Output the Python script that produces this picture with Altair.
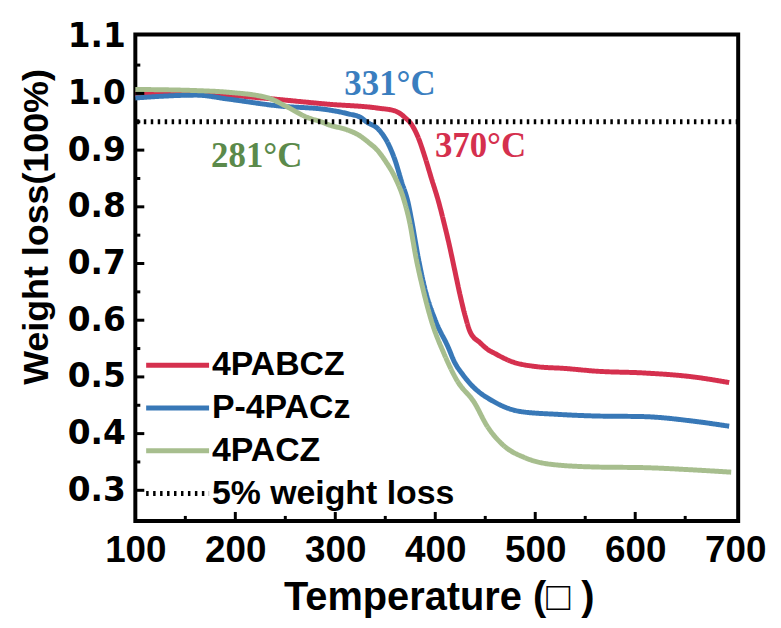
import altair as alt
import pandas as pd

# ---------------- data ----------------
series_names = ["4PABCZ", "P-4PACz", "4PACZ"]
ref_name = "5% weight loss"
series_colors = ["#D5304E", "#3878B7", "#A7BE8E"]

red_T = [100, 160, 226, 293, 343, 360, 370, 376, 383, 390, 396, 403, 409, 414, 419, 425, 430, 435,
         445, 452, 460, 475, 502, 529, 562, 608, 658, 694]
red_W = [0.999, 1.000, 0.992, 0.981, 0.974, 0.969, 0.957, 0.946, 0.922, 0.886, 0.851, 0.811, 0.770,
         0.733, 0.692, 0.643, 0.607, 0.579, 0.560, 0.549, 0.541, 0.528, 0.518, 0.515, 0.510, 0.507,
         0.500, 0.490]

blue_T = [100, 161, 193, 243, 293, 313, 326, 331, 343, 353, 360, 366, 373, 377, 383, 390, 400, 413,
          419, 428, 436, 459, 485, 522, 562, 608, 658, 694]
blue_W = [0.992, 0.997, 0.990, 0.978, 0.971, 0.964, 0.957, 0.950, 0.937, 0.911, 0.881, 0.846, 0.806,
          0.770, 0.710, 0.653, 0.600, 0.552, 0.527, 0.503, 0.486, 0.456, 0.439, 0.434, 0.431, 0.430,
          0.422, 0.413]

green_T = [100, 161, 193, 233, 250, 273, 286, 293, 313, 323, 333, 343, 350, 360, 368, 374, 381, 388,
           396, 409, 422, 439, 452, 469, 489, 515, 562, 608, 658, 696]
green_W = [1.007, 1.005, 1.002, 0.992, 0.978, 0.957, 0.950, 0.945, 0.935, 0.927, 0.914, 0.898, 0.881,
           0.851, 0.816, 0.776, 0.708, 0.653, 0.600, 0.540, 0.493, 0.455, 0.413, 0.378, 0.358, 0.346,
           0.341, 0.340, 0.336, 0.332]

ref_level = [0.95]

anno_text = ["331°C", "370°C", "281°C"]
anno_T = [354.7, 445.3, 221.4]
anno_W = [1.016, 0.9075, 0.890]
anno_colors = ["#3A7EBF", "#D5304E", "#5B8A4B"]

x_major = [200, 300, 400, 500, 600]
x_minor = [150, 250, 350, 450, 550, 650]
y_major = [0.3, 0.4, 0.5, 0.6, 0.7, 0.8, 0.9, 1.0]
y_minor = [0.35, 0.45, 0.55, 0.65, 0.75, 0.85, 0.95, 1.05]
x_tick_labels = [100, 200, 300, 400, 500, 600, 700]
y_tick_labels = [0.3, 0.4, 0.5, 0.6, 0.7, 0.8, 0.9, 1.0, 1.1]

# ---------------- chart ----------------
W, H = 606, 489
x_dom = [100, 703]
y_dom = [0.246, 1.104]

all_names = series_names + [ref_name]
color_scale = alt.Scale(domain=all_names, range=series_colors + ["black"])
dash_scale = alt.Scale(domain=all_names, range=[[1, 0], [1, 0], [1, 0], [2.5, 4.5]])
width_scale = alt.Scale(domain=all_names, range=[5, 5, 5, 2.4])

legend = alt.Legend(
    title=None, orient="none", legendX=8, legendY=311,
    symbolType="stroke", symbolSize=4000,
    labelFont="Liberation Sans", labelFontWeight="bold", labelFontSize=34,
    labelColor="black", labelOffset=0, labelLimit=400, rowPadding=0, clipHeight=43,
    padding=0,
)

xs = alt.Scale(domain=x_dom, nice=False, zero=False)
ys = alt.Scale(domain=y_dom, nice=False, zero=False)

x_axis = alt.Axis(values=x_tick_labels, ticks=False, domain=False, grid=False,
                  labelFont="Liberation Sans", labelFontWeight="bold", labelFontSize=37,
                  labelColor="black", labelPadding=12, labelFlush=False,
                  title="Temperature (□ )", titleFont="Liberation Sans", titleFontWeight="bold",
                  titleFontSize=40, titleColor="black", titleX=W / 2 + 2, titleY=89,
                  titleBaseline="alphabetic")
y_axis = alt.Axis(values=y_tick_labels, format=".1f", ticks=False, domain=False, grid=False,
                  labelFont="DejaVu Sans", labelFontWeight="bold", labelFontSize=33,
                  labelColor="black", labelPadding=10, labelFlush=False,
                  title="Weight loss(100%)", titleFont="Liberation Sans", titleFontWeight="bold",
                  titleFontSize=36, titleColor="black", titleX=-99, titleY=193,
                  titleBaseline="middle", titleAngle=-90)


def X(field):
    return alt.X(field, scale=xs, axis=x_axis)


def Y(field):
    return alt.Y(field, scale=ys, axis=y_axis)


def series_enc():
    return dict(
        color=alt.Color("series:N", scale=color_scale, legend=legend),
        strokeDash=alt.StrokeDash("series:N", scale=dash_scale, legend=legend),
        strokeWidth=alt.StrokeWidth("series:N", scale=width_scale, legend=legend),
    )


layers = []
for name, T, Wt in zip(series_names, [red_T, blue_T, green_T], [red_W, blue_W, green_W]):
    df = pd.DataFrame({"T": T, "W": Wt, "series": name})
    layers.append(alt.Chart(df).mark_line(interpolate="monotone").encode(
        x=X("T:Q"), y=Y("W:Q"), **series_enc()))

ref_df = pd.DataFrame({"W": ref_level, "series": [ref_name]})
layers.append(alt.Chart(ref_df).mark_rule().encode(y=Y("W:Q"), **series_enc()))

for txt, t, w, c in zip(anno_text, anno_T, anno_W, anno_colors):
    adf = pd.DataFrame({"T": [t], "W": [w], "label": [txt]})
    layers.append(alt.Chart(adf).mark_text(
        font="Liberation Serif", fontWeight="bold", fontSize=35, color=c,
        align="center", baseline="middle").encode(x=X("T:Q"), y=Y("W:Q"), text="label:N"))


# inward ticks
def xticks(vals, length):
    return alt.Chart(pd.DataFrame({"T": vals})).mark_rule(color="black", strokeWidth=3).encode(
        x=X("T:Q"), y=alt.value(H), y2=alt.value(H - length))


def yticks(vals, length):
    return alt.Chart(pd.DataFrame({"W": vals})).mark_rule(color="black", strokeWidth=3).encode(
        y=Y("W:Q"), x=alt.value(0), x2=alt.value(length))


layers += [xticks(x_major, 9), xticks(x_minor, 5), yticks(y_major, 9), yticks(y_minor, 5)]

chart = alt.layer(*layers).properties(
    width=W, height=H,
    autosize=alt.AutoSizeParams(type="none"),
    padding={"left": 128, "top": 25, "right": 35, "bottom": 98},
).configure(background="white").configure_view(stroke="black", strokeWidth=4)

chart.save("out.html", embed_options={"renderer": "svg", "actions": False})
